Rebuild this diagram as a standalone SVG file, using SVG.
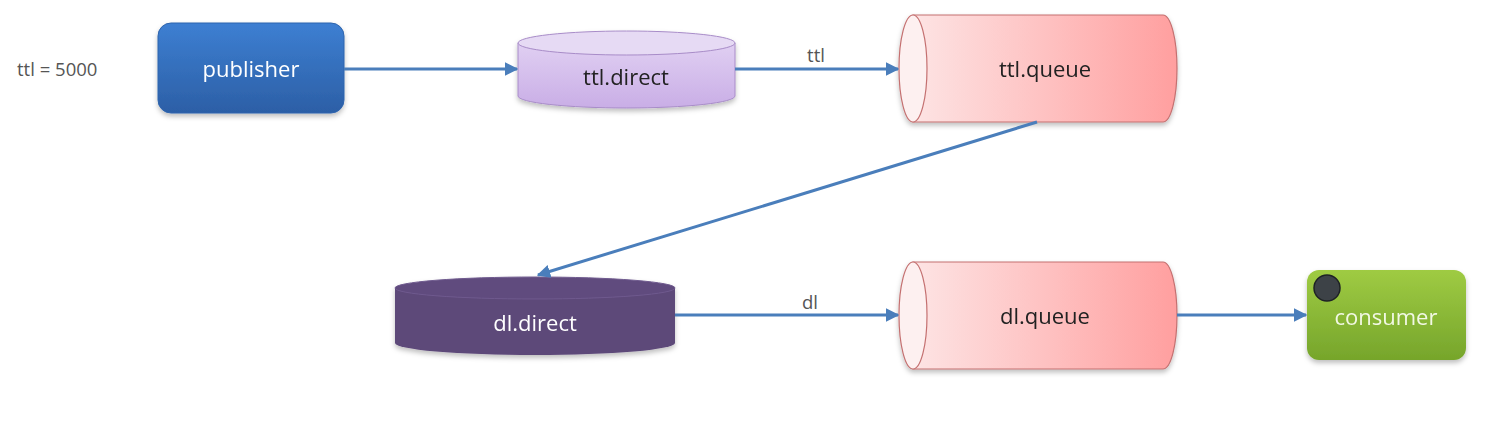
<svg xmlns="http://www.w3.org/2000/svg" width="1501" height="444" viewBox="0 0 1501 444">
<defs>
<style>
.lbl{font-family:"Open Sans","Liberation Sans",sans-serif;font-size:22px;text-anchor:middle}
.edge{stroke:#4a7ebb;stroke-width:3;fill:none}
.small{font-family:"Open Sans","Liberation Sans",sans-serif;font-size:18.5px;fill:#555}
.qstroke{stroke:#c47070;stroke-width:1.2}
</style>
<marker id="arr" viewBox="0 0 10 10" refX="9" refY="5" markerWidth="4.5" markerHeight="4.5" orient="auto" markerUnits="strokeWidth">
<path d="M0,0 L10,5 L0,10 z" fill="#4a7ebb"/>
</marker>
<linearGradient id="gPub" x1="0" y1="0" x2="0" y2="1">
<stop offset="0" stop-color="#3d7fd2"/><stop offset="1" stop-color="#2c5fa6"/>
</linearGradient>
<linearGradient id="gCon" x1="0" y1="0" x2="0" y2="1">
<stop offset="0" stop-color="#9fcb43"/><stop offset="1" stop-color="#76a52b"/>
</linearGradient>
<linearGradient id="gQ" x1="0" y1="0" x2="1" y2="0">
<stop offset="0" stop-color="#fde4e4"/><stop offset="1" stop-color="#ff9f9f"/>
</linearGradient>
<linearGradient id="gTD" x1="0" y1="0" x2="0" y2="1">
<stop offset="0" stop-color="#e0cff2"/><stop offset="1" stop-color="#c9aee6"/>
</linearGradient>
<filter id="sh" x="-10%" y="-10%" width="120%" height="130%">
<feDropShadow dx="0" dy="3" stdDeviation="2.5" flood-color="#000" flood-opacity="0.25"/>
</filter>
</defs>

<text class="small" x="17" y="76">ttl = 5000</text>

<g id="publisher" filter="url(#sh)">
<rect x="158" y="23" width="186" height="90" rx="13" fill="url(#gPub)" stroke="#2e64ad" stroke-width="1"/>
<text class="lbl" x="251" y="77" fill="#ffffff">publisher</text>
</g>

<g id="ttl-direct" filter="url(#sh)">
<path d="M518,43 L518,96 A108.5,12 0 0 0 735,96 L735,43 Z" fill="url(#gTD)" stroke="#a88cc8" stroke-width="1"/>
<ellipse cx="626.5" cy="43" rx="108.5" ry="12" fill="#e6daf4" stroke="#a88cc8" stroke-width="1"/>
<text class="lbl" x="626" y="85" fill="#222">ttl.direct</text>
</g>

<g id="ttl-queue" filter="url(#sh)">
<path class="qstroke" d="M913,15 L1163,15 A14,53.5 0 0 1 1163,122 L913,122 Z" fill="url(#gQ)"/>
<ellipse class="qstroke" cx="913" cy="68.5" rx="14" ry="53.5" fill="#fdf0f0"/>
<text class="lbl" x="1045" y="77" fill="#222">ttl.queue</text>
</g>

<g id="dl-direct" filter="url(#sh)">
<path d="M395,288 L395,343 A140,12 0 0 0 675,343 L675,288 Z" fill="#5d4879"/>
<ellipse cx="535" cy="288" rx="140" ry="11" fill="#604b7e" stroke="#6f5a8e" stroke-width="1"/>
<text class="lbl" x="535" y="331" fill="#ffffff">dl.direct</text>
</g>

<g id="dl-queue" filter="url(#sh)">
<path class="qstroke" d="M913,262 L1163,262 A14,53.5 0 0 1 1163,369 L913,369 Z" fill="url(#gQ)"/>
<ellipse class="qstroke" cx="913" cy="315.5" rx="14" ry="53.5" fill="#fdf0f0"/>
<text class="lbl" x="1045" y="324" fill="#222">dl.queue</text>
</g>

<g id="consumer" filter="url(#sh)">
<rect x="1307" y="270" width="159" height="90" rx="12" fill="url(#gCon)"/>
<text class="lbl" x="1386" y="325" fill="#f2f8e4">consumer</text>
<circle cx="1327" cy="288" r="13" fill="#3e4347" stroke="#1f2326" stroke-width="1.5"/>
</g>

<g id="connectors">
<line class="edge" x1="344" y1="69" x2="517" y2="69" marker-end="url(#arr)"/>
<line class="edge" x1="735" y1="69" x2="898" y2="69" marker-end="url(#arr)"/>
<text class="small" x="816" y="62" text-anchor="middle">ttl</text>
<line class="edge" x1="1037" y1="122" x2="538" y2="275" marker-end="url(#arr)"/>
<line class="edge" x1="675" y1="315" x2="898" y2="315" marker-end="url(#arr)"/>
<text class="small" x="810" y="309" text-anchor="middle">dl</text>
<line class="edge" x1="1177" y1="315" x2="1306" y2="315" marker-end="url(#arr)"/>
</g>
</svg>
